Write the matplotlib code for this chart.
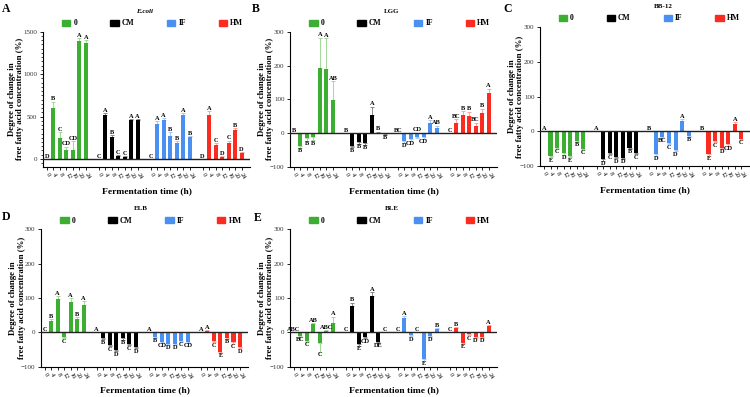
import matplotlib
matplotlib.use('Agg')
import matplotlib.pyplot as plt
from matplotlib.ticker import MultipleLocator
from matplotlib.patches import Patch
import numpy as np

plt.rcParams['font.family'] = ['Liberation Serif', 'DejaVu Serif']

hours = ['0', '4', '8', '12', '16', '20', '24']
groups = ['0', 'CM', 'IF', 'HM']
colors = ['#3cae32', '#000000', '#4a90f2', '#fb2c1f']
err_colors = ['#a3d99a', '#8a8a8a', '#a9c9f7', '#fca49c']

# A  E.coli  (groups: 0, CM, IF, HM ; hours 0..24)
ecoli_vals = [[0, 595, 252, 102, 110, 1394, 1362],
              [0, 520, 260, 35, 24, 457, 457],
              [0, 417, 457, 268, 189, 520, 256],
              [0, 520, 169, 24, 193, 339, 67]]
ecoli_err = [[0, 80, 60, 40, 100, 30, 40],
             [0, 20, 20, 10, 5, 10, 10],
             [0, 30, 25, 50, 20, 20, 15],
             [0, 40, 20, 10, 20, 25, 15]]
ecoli_let = [['D', 'B', 'C', 'CD', 'CD', 'A', 'A'],
             ['C', 'A', 'B', 'C', 'C', 'A', 'A'],
             ['C', 'A', 'A', 'B', 'B', 'A', 'B'],
             ['D', 'A', 'C', 'D', 'C', 'B', 'D']]

# B  LGG
lgg_vals = [[0, -37, -13, -11, 192, 189, 99],
            [0, -37, -26, -30, 53, 2, -3],
            [0, -23, -18, -10, -11, 31, 16],
            [0, 29, 53, 51, 21, 61, 120]]
lgg_err = [[0, 7, 10, 10, 90, 92, 55],
           [0, 5, 5, 5, 25, 2, 2],
           [0, 5, 5, 3, 5, 8, 6],
           [0, 12, 12, 12, 10, 12, 12]]
lgg_let = [['B', 'B', 'B', 'B', 'A', 'A', 'AB'],
           ['B', 'B', 'B', 'B', 'A', 'B', 'B'],
           ['BC', 'D', 'CD', 'CD', 'CD', 'A', 'AB'],
           ['C', 'BC', 'B', 'B', 'BC', 'B', 'A']]

# C  BB-12
bb12_vals = [[0, -71, -47, -64, -71, -28, -50],
             [0, -81, -62, -74, -76, -47, -62],
             [0, -66, -16, -33, -54, 30, -13],
             [0, -66, -28, -47, -38, 22, -21]]
bb12_err = [[0, 4, 3, 4, 4, 3, 4],
            [0, 4, 4, 4, 4, 4, 4],
            [0, 4, 3, 4, 4, 4, 3],
            [0, 4, 4, 4, 4, 4, 4]]
bb12_let = [['A', 'E', 'C', 'D', 'E', 'B', 'C'],
            ['A', 'D', 'C', 'D', 'D', 'B', 'C'],
            ['B', 'D', 'BC', 'C', 'D', 'A', 'B'],
            ['B', 'E', 'C', 'D', 'CD', 'A', 'C']]

# D  ELB
elb_vals = [[0, 33, 97, -13, 87, 39, 80],
            [0, -16, -37, -51, -17, -34, -42],
            [0, -13, -27, -34, -34, -24, -27],
            [0, 5, -25, -56, -15, -29, -42]]
elb_err = [[0, 5, 8, 4, 12, 5, 10],
           [0, 4, 4, 4, 4, 4, 4],
           [0, 3, 3, 3, 3, 3, 3],
           [0, 2, 4, 4, 4, 4, 4]]
elb_let = [['C', 'B', 'A', 'C', 'A', 'B', 'A'],
           ['A', 'B', 'C', 'D', 'B', 'C', 'D'],
           ['A', 'B', 'CD', 'D', 'D', 'C', 'CD'],
           ['A', 'A', 'C', 'E', 'B', 'C', 'D']]

# E  BLE
ble_vals = [[0, -10, -25, 23, -32, 4, 28],
            [0, 78, -35, -13, 107, -27, 0],
            [0, 43, -8, 1, -78, -10, 9],
            [0, 12, -30, -6, -13, -13, 18]]
ble_err = [[0, 3, 3, 3, 24, 3, 17],
           [0, 8, 4, 4, 10, 4, 0],
           [0, 4, 3, 0, 5, 3, 3],
           [0, 3, 4, 3, 3, 3, 3]]
ble_let = [['ABC', 'BC', 'C', 'AB', 'C', 'ABC', 'A'],
           ['C', 'B', 'E', 'CD', 'A', 'DE', 'C'],
           ['C', 'A', 'D', 'C', 'E', 'D', 'B'],
           ['C', 'B', 'E', 'C', 'D', 'D', 'A']]

fig = plt.figure(figsize=(7.5, 3.97), dpi=100)


def panel(rect, vals, errs, lets, title, title_x, ylim, ystep, letter, letter_xy,
          ylab_x, leg_x, minor=None, above=()):
    ax = fig.add_axes(rect)
    for g in range(4):
        xs = np.arange(7) + g * 8
        v = np.array(vals[g], dtype=float)
        e = np.array(errs[g], dtype=float)
        ax.bar(xs, v, width=0.62, color=colors[g], zorder=3)
        m = e > 0
        lo = np.where(v < 0, e, 0)[m]
        hi = np.where(v >= 0, e, 0)[m]
        ax.errorbar(xs[m], v[m], yerr=[lo, hi], fmt='none', ecolor=err_colors[g],
                    elinewidth=0.7, capsize=1.3, capthick=0.7, zorder=2)
        for i, (x, val, er, t) in enumerate(zip(xs, v, e, lets[g])):
            if (g, i) in above:
                ax.annotate(t, (x, 0), xytext=(0, 0.8), textcoords='offset points',
                            ha='center', va='bottom', fontsize=4.6, fontweight='bold')
            elif val >= 0:
                ax.annotate(t, (x, val + er), xytext=(0, 0.3), textcoords='offset points',
                            ha='center', va='bottom', fontsize=4.6, fontweight='bold')
            else:
                ax.annotate(t, (x, val - er), xytext=(0, -0.3), textcoords='offset points',
                            ha='center', va='top', fontsize=4.6, fontweight='bold')
    ax.axhline(0, color='#222222', lw=1.0, zorder=4)
    ax.set_xlim(-0.6, 31.3)
    ax.yaxis.set_major_locator(MultipleLocator(ystep))
    if minor:
        ax.yaxis.set_minor_locator(MultipleLocator(minor))
        ax.tick_params(axis='y', which='minor', length=1.3, width=0.5)
    ax.set_ylim(*ylim)
    pos = [g * 8 + i for g in range(4) for i in range(7)]
    ax.set_xticks(pos)
    ax.set_xticklabels(hours * 4, rotation=-60, ha='left', va='center',
                       rotation_mode='anchor', fontsize=4.6)
    ax.tick_params(axis='x', length=2, width=0.6, pad=2.5)
    ax.tick_params(axis='y', which='major', length=2.5, width=0.6, labelsize=5,
                   labelcolor='#333333', pad=1.5)
    for s in ['top', 'right']:
        ax.spines[s].set_visible(False)
    ax.spines['left'].set_linewidth(0.8)
    ax.spines['bottom'].set_linewidth(0.8)
    ax.set_ylabel('Degree of change in\nfree fatty acid concentration (%)',
                  fontsize=6.3, fontweight='bold', linespacing=1.1)
    ax.yaxis.set_label_coords(ylab_x, 0.5)
    ax.set_xlabel('Fermentation time (h)', fontsize=6.8, fontweight='bold', labelpad=5)
    ax.text(title_x, 1.15, title, transform=ax.transAxes, ha='center', va='center',
            fontsize=5, fontweight='bold', style='italic' if title == 'E.coli' else 'normal')
    handles = [Patch(color=c, label=l) for c, l in zip(colors, groups)]
    ax.legend(handles=handles, ncol=4, loc='center', bbox_to_anchor=(leg_x, 1.062),
              frameon=False, handlelength=1.1, handleheight=0.8,
              handletextpad=0.4, columnspacing=4.3, borderpad=0,
              prop={'weight': 'bold', 'size': 5.5})
    fig.text(letter_xy[0] / 750, 1 - letter_xy[1] / 397, letter, fontsize=8.5,
             fontweight='bold', ha='left', va='top')
    return ax


panel([0.0573, 0.5793, 0.276, 0.3408], ecoli_vals, ecoli_err, ecoli_let, 'E.coli', 0.49,
      (-95, 1500), 500, 'A', (2, 3), -0.09, 0.53, minor=50)
panel([0.3867, 0.5793, 0.276, 0.3408], lgg_vals, lgg_err, lgg_let, 'LGG', 0.49,
      (-100, 300), 100, 'B', (252, 3), -0.075, 0.53, above={(2, 3)})
panel([0.72, 0.5819, 0.28, 0.350], bb12_vals, bb12_err, bb12_let, 'BB-12', 0.585,
      (-100, 300), 100, 'C', (503, 3), -0.075, 0.52)
panel([0.0543, 0.0763, 0.277, 0.346], elb_vals, elb_err, elb_let, 'ELB', 0.48,
      (-100, 300), 100, 'D', (2, 211), -0.072, 0.53)
panel([0.3867, 0.0763, 0.276, 0.346], ble_vals, ble_err, ble_let, 'BLE', 0.49,
      (-100, 300), 100, 'E', (254, 212), -0.075, 0.53)

fig.savefig('out.png', dpi=100)
